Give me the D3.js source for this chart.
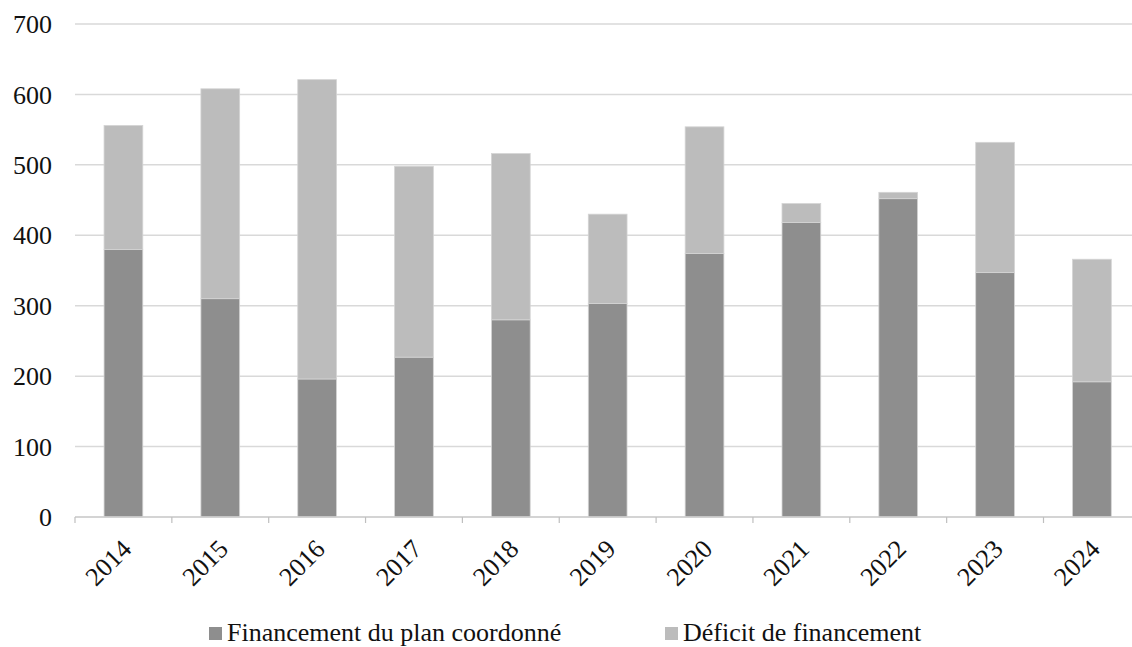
<!DOCTYPE html>
<html>
<head>
<meta charset="utf-8">
<script src="https://cdn.jsdelivr.net/npm/d3@7"></script>
<style>
  body { margin: 0; background: #fff; }
  svg { display: block; }
  text { font-family: "Liberation Serif", "DejaVu Serif", serif; fill: #111; }
</style>
</head>
<body>
<svg id="chart" width="1132" height="647"></svg>
<script>
// data
const years = ['2014', '2015', '2016', '2017', '2018', '2019', '2020', '2021', '2022', '2023', '2024'];
const funded = [380, 310, 196, 227, 280, 303, 374, 418, 452, 347, 192];
const deficit = [176, 298, 425, 271, 236, 127, 180, 27, 9, 185, 174];
const yTicks = [0, 100, 200, 300, 400, 500, 600, 700];
const seriesNames = ['Financement du plan coordonné', 'Déficit de financement'];
const colors = ['#8e8e8e', '#bcbcbc'];

const serif = '"Liberation Serif", "Times New Roman", serif';
const svg = d3.select('#chart');
const plotLeft = 75, plotBottom = 517, plotTop = 24;
const step = 96.85;

const x = d3.scaleBand()
  .domain(years)
  .range([plotLeft, plotLeft + step * years.length])
  .paddingInner(0.6)
  .paddingOuter(0.3);

const y = d3.scaleLinear().domain([0, 700]).range([plotBottom, plotTop]);

// gridlines
svg.append('g')
  .selectAll('line')
  .data(yTicks)
  .enter().append('line')
  .attr('x1', plotLeft)
  .attr('x2', 1132)
  .attr('y1', d => y(d))
  .attr('y2', d => y(d))
  .attr('stroke', '#d9d9d9')
  .attr('stroke-width', 1.5);

// y labels
svg.append('g')
  .selectAll('text')
  .data(yTicks)
  .enter().append('text')
  .attr('x', 52)
  .attr('y', d => y(d))
  .attr('dy', '0.35em')
  .attr('text-anchor', 'end')
  .attr('font-family', serif)
  .style('font-size', '26px')
  .text(d => d);

// stacked bars
const rows = years.map((yr, i) => ({ year: yr, funded: funded[i], deficit: deficit[i] }));
const stack = d3.stack().keys(['funded', 'deficit'])(rows);

svg.append('g')
  .selectAll('g')
  .data(stack)
  .enter().append('g')
  .attr('fill', (d, i) => colors[i])
  .selectAll('rect')
  .data(d => d)
  .enter().append('rect')
  .attr('x', d => x(d.data.year))
  .attr('width', x.bandwidth())
  .attr('y', d => y(d[1]))
  .attr('height', d => y(d[0]) - y(d[1]))
  .attr('stroke', '#d4d4d4')
  .attr('stroke-width', 0.8);

// x axis line and boundary ticks
svg.append('line')
  .attr('x1', plotLeft).attr('x2', 1132)
  .attr('y1', plotBottom).attr('y2', plotBottom)
  .attr('stroke', '#cfcfcf')
  .attr('stroke-width', 1.5);

svg.append('g')
  .selectAll('line')
  .data(d3.range(years.length + 1))
  .enter().append('line')
  .attr('x1', i => plotLeft + i * step)
  .attr('x2', i => plotLeft + i * step)
  .attr('y1', plotBottom)
  .attr('y2', plotBottom + 6)
  .attr('stroke', '#bfbfbf')
  .attr('stroke-width', 1.2);

// rotated year labels
svg.append('g')
  .selectAll('text')
  .data(years)
  .enter().append('text')
  .attr('transform', d => `translate(${x(d) + x.bandwidth() / 2 + 3},${plotBottom + 27}) rotate(-45)`)
  .attr('text-anchor', 'end')
  .attr('dy', '0.35em')
  .attr('font-family', serif)
  .style('font-size', '26px')
  .text(d => d);

// legend
const legendX = [209, 665];
const legend = svg.append('g')
  .selectAll('g')
  .data(seriesNames)
  .enter().append('g')
  .attr('transform', (d, i) => `translate(${legendX[i]},627)`);

legend.append('rect')
  .attr('width', 13)
  .attr('height', 13)
  .attr('fill', (d, i) => colors[i]);

legend.append('text')
  .attr('x', 18)
  .attr('y', 14)
  .attr('font-family', serif)
  .style('font-size', '26px')
  .text(d => d);
</script>
</body>
</html>
